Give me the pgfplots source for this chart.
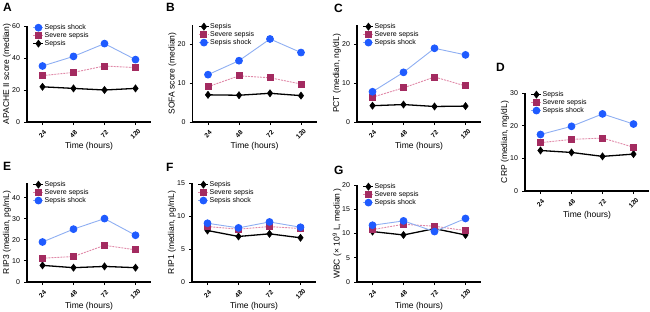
\documentclass[border=0pt]{standalone}
\usepackage{fontspec}
\setmainfont{Liberation Sans}
\usepackage{pgfplots}
\pgfplotsset{compat=1.18}
\definecolor{bluemark}{HTML}{1F5BFF}
\definecolor{blueline}{HTML}{8EAEF2}
\definecolor{maroon}{HTML}{A32B60}
\definecolor{pinkline}{HTML}{E089A8}
\pgfplotsset{
  panel/.style={
    scale only axis, width=124pt,
    axis x line*=bottom, axis y line*=left,
    xmin=-0.5, xmax=3.5, xtick={0,1,2,3}, xticklabels={24,48,72,120},
    ymin=0, clip=false,
    tick align=outside, major tick length=3pt,
    every tick/.style={black, line width=0.9pt},
    axis line style={line width=1.1pt},
    /pgf/number format/assume math mode=true,
    xticklabel style={font=\bfseries\fontsize{6.5}{7}\selectfont, anchor=center, yshift=-9pt, rotate=45},
    yticklabel style={font=\fontsize{7}{8}\selectfont, xshift=-0.5pt},
    xlabel={Time (hours)},
    every axis x label/.style={at={(axis description cs:0.5,0)}, anchor=center, yshift=-24pt, font=\fontsize{8.5}{10}\selectfont},
    every axis y label/.style={at={(axis description cs:0,0.5)}, anchor=center, xshift=-20pt, rotate=90, font=\fontsize{8.5}{10}\selectfont},
    legend cell align=left,
    legend style={draw=none, fill=none, font=\fontsize{7}{7.5}\selectfont, inner sep=0pt, row sep=0.2pt,
      anchor=north west, at={(axis description cs:0.045,1.025)},
      nodes={inner sep=0.6pt}},
    legend image code/.code={\draw[mark repeat=2,mark phase=2] plot coordinates {(0pt,0pt) (5pt,0pt) (10pt,0pt)};},
  },
  shock/.style={blueline, line width=0.9pt, mark=*, mark size=3.4pt, mark options={solid, fill=bluemark, draw=bluemark}},
  severe/.style={pinkline, line width=0.9pt, dash pattern=on 2pt off 1pt, mark=square*, mark size=3pt, mark options={solid, fill=maroon, draw=maroon}},
  sepsis/.style={black, line width=1.3pt, mark=diamond*, mark size=3.6pt, mark options={solid, fill=black, line width=0.5pt}},
}
\begin{document}
\begin{tikzpicture}
\useasboundingbox (0,0) rectangle (650pt,-311pt);
\tikzset{plabel/.style={anchor=north west, font=\bfseries\fontsize{12}{14}\selectfont, inner sep=0pt}}
\node[plabel] at (3pt,-3pt) {A};
\node[plabel] at (166pt,-3pt) {B};
\node[plabel] at (334pt,-4pt) {C};
\node[plabel] at (496pt,-63pt) {D};
\node[plabel] at (3pt,-162pt) {E};
\node[plabel] at (166pt,-163pt) {F};
\node[plabel] at (334pt,-166pt) {G};

% A
\begin{axis}[panel, at={(27pt,-122pt)}, anchor=south west, height=96pt, ymax=60, ytick={0,20,40,60},
  ylabel={APACHE II score (median)}]
\addplot[shock] coordinates {(0,35) (1,41) (2,49) (3,39)};
\addlegendentry{Sepsis shock}
\addplot[severe] coordinates {(0,29) (1,31) (2,35) (3,34)};
\addlegendentry{Severe sepsis}
\addplot[sepsis] coordinates {(0,22) (1,21) (2,20) (3,21)};
\addlegendentry{Sepsis}
\end{axis}

% B
\begin{axis}[panel, at={(192.5pt,-122pt)}, anchor=south west, height=97pt, ymax=25, ytick={0,10,20},
  ylabel={SOFA score (median)}]
\addplot[sepsis] coordinates {(0,7.0) (1,6.9) (2,7.4) (3,6.8)};
\addlegendentry{Sepsis}
\addplot[severe] coordinates {(0,9.1) (1,11.9) (2,11.4) (3,9.8)};
\addlegendentry{Severe sepsis}
\addplot[shock] coordinates {(0,12.2) (1,15.8) (2,21.4) (3,17.9)};
\addlegendentry{Sepsis shock}
\end{axis}

% C
\begin{axis}[panel, at={(357pt,-122pt)}, anchor=south west, height=97pt, ymax=25, ytick={0,10,20},
  ylabel={PCT (median, ng/dL)}]
\addplot[sepsis] coordinates {(0,4.2) (1,4.5) (2,4.0) (3,4.1)};
\addlegendentry{Sepsis}
\addplot[severe] coordinates {(0,6.4) (1,8.8) (2,11.6) (3,9.3)};
\addlegendentry{Severe sepsis}
\addplot[shock] coordinates {(0,7.8) (1,12.8) (2,19.0) (3,17.3)};
\addlegendentry{Sepsis shock}
\end{axis}

% D
\begin{axis}[panel, at={(525pt,-191pt)}, anchor=south west, height=98pt, ymax=30, ytick={0,10,20,30},
  ylabel={CRP (median, mg/dL)}]
\addplot[sepsis] coordinates {(0,12.4) (1,11.8) (2,10.6) (3,11.3)};
\addlegendentry{Sepsis}
\addplot[severe] coordinates {(0,14.8) (1,15.8) (2,16.2) (3,13.4)};
\addlegendentry{Severe sepsis}
\addplot[shock] coordinates {(0,17.3) (1,19.8) (2,23.6) (3,20.5)};
\addlegendentry{Sepsis shock}
\end{axis}

% E
\begin{axis}[panel, at={(27pt,-282pt)}, anchor=south west, height=99pt, ymax=47, ytick={0,10,20,30,40},
  ylabel={RIP3 (median, pg/mL)}]
\addplot[sepsis] coordinates {(0,7.9) (1,6.8) (2,7.4) (3,6.8)};
\addlegendentry{Sepsis}
\addplot[severe] coordinates {(0,11.3) (1,12.1) (2,17.4) (3,15.3)};
\addlegendentry{Severe sepsis}
\addplot[shock] coordinates {(0,19.0) (1,25.1) (2,30.1) (3,22.2)};
\addlegendentry{Sepsis shock}
\end{axis}

% F
\begin{axis}[panel, at={(192pt,-282pt)}, anchor=south west, height=99pt, ymax=15, ytick={0,5,10,15},
  ylabel={RIP1 (median, pg/mL)}]
\addplot[sepsis] coordinates {(0,7.8) (1,6.9) (2,7.3) (3,6.7)};
\addlegendentry{Sepsis}
\addplot[severe] coordinates {(0,8.4) (1,8.0) (2,8.4) (3,8.1)};
\addlegendentry{Severe sepsis}
\addplot[shock] coordinates {(0,8.9) (1,8.2) (2,9.1) (3,8.3)};
\addlegendentry{Sepsis shock}
\end{axis}

% G
\begin{axis}[panel, at={(357pt,-282pt)}, anchor=south west, height=97pt, ymax=20, ytick={0,5,10,15,20},
  ylabel={WBC (× 10\textsuperscript{9} L, median )}]
\addplot[sepsis] coordinates {(0,10.4) (1,9.7) (2,11.0) (3,9.7)};
\addlegendentry{Sepsis}
\addplot[severe] coordinates {(0,10.8) (1,11.9) (2,11.5) (3,10.6)};
\addlegendentry{Severe sepsis}
\addplot[shock] coordinates {(0,11.7) (1,12.6) (2,10.4) (3,13.1)};
\addlegendentry{Sepsis shock}
\end{axis}
\end{tikzpicture}
\end{document}
